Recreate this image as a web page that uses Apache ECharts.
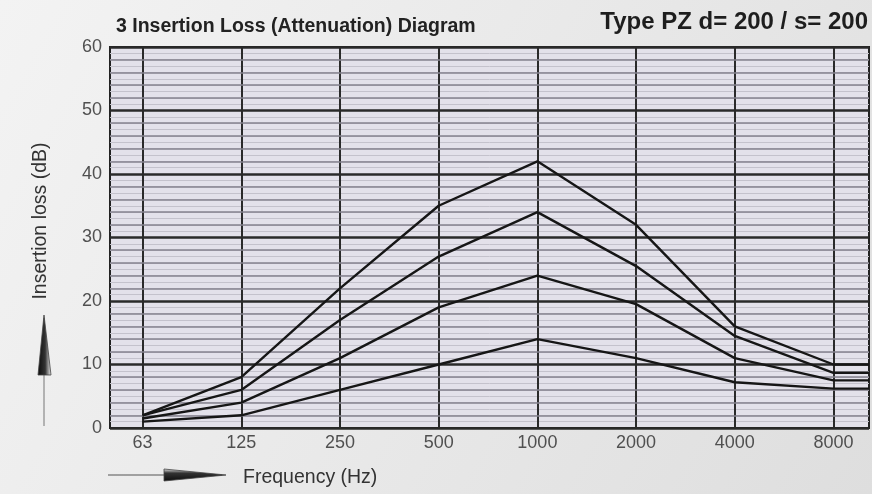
<!DOCTYPE html>
<html>
<head>
<meta charset="utf-8">
<script src="https://cdn.jsdelivr.net/npm/echarts@6/dist/echarts.min.js"></script>
<style>
  html, body { margin: 0; padding: 0; background: #eaeaea; }
  #chart { width: 872px; height: 494px; }
</style>
</head>
<body>
<div id="chart"></div>
<script>
// octave band centre frequencies (Hz)
var frequencies = ['63', '125', '250', '500', '1000', '2000', '4000', '8000'];
var yTicks = [0, 10, 20, 30, 40, 50, 60];

// insertion loss curves (dB), top to bottom
var curveA = [2, 8, 22, 35, 42, 32, 16, 10];
var curveB = [2, 6, 17, 27, 34, 25.5, 14.5, 8.7];
var curveC = [1.5, 4, 11, 19, 24, 19.5, 11, 7.5];
var curveD = [1, 2, 6, 10, 14, 11, 7.2, 6.2];

var X_MIN = -0.33;
var X_MAX = 7.36;
var FONT = 'Liberation Sans, Arial, sans-serif';

function toPoints(values) {
  var pts = values.map(function (v, i) { return [i, v]; });
  // curve runs on flat to the right edge of the diagram
  pts.push([X_MAX, values[values.length - 1]]);
  return pts;
}

function curve(values) {
  return {
    type: 'line',
    yAxisIndex: 1,
    data: toPoints(values),
    symbol: 'none',
    silent: true,
    lineStyle: { color: '#161616', width: 2.4 },
    z: 5
  };
}

var chart = echarts.init(document.getElementById('chart'));

chart.setOption({
  animation: false,
  backgroundColor: new echarts.graphic.LinearGradient(0, 0, 1, 1, [
    { offset: 0, color: '#f3f3f3' },
    { offset: 0.5, color: '#e9e9e9' },
    { offset: 1, color: '#dedede' }
  ]),
  textStyle: { fontFamily: FONT },
  grid: {
    left: 110,
    top: 47,
    right: 3,
    bottom: 66,
    show: true,
    backgroundColor: '#e3e1ea',
    borderColor: '#222',
    borderWidth: 2
  },
  xAxis: {
    type: 'value',
    min: X_MIN,
    max: X_MAX,
    axisLine: { show: false },
    axisTick: { show: false, customValues: frequencies.map(function (f, i) { return i; }) },
    axisLabel: {
      customValues: frequencies.map(function (f, i) { return i; }),
      formatter: function (v) { return frequencies[Math.round(v)]; },
      color: '#505050',
      fontSize: 18,
      margin: 6
    },
    splitLine: { show: true, lineStyle: { color: '#2a2a2a', width: 2 } }
  },
  yAxis: [{
    // faint 1 dB ruling
    type: 'value',
    min: 0,
    max: 60,
    interval: 1,
    z: 0,
    axisLine: { show: false },
    axisTick: { show: false },
    axisLabel: { show: false },
    splitLine: { show: true, lineStyle: { color: '#c4c2cc', width: 1 } }
  }, {
    type: 'value',
    position: 'left',
    min: yTicks[0],
    max: yTicks[yTicks.length - 1],
    interval: 10,
    z: 1,
    axisLine: { show: false },
    axisTick: { show: false },
    axisLabel: { color: '#505050', fontSize: 18, margin: 8 },
    splitLine: { show: true, lineStyle: { color: '#2a2a2a', width: 2.5 } },
    minorTick: { show: false, splitNumber: 5 },
    minorSplitLine: { show: true, lineStyle: { color: '#85838e', width: 1.5 } }
  }],
  series: [curve(curveA), curve(curveB), curve(curveC), curve(curveD)],
  graphic: [
    {
      type: 'text', x: 116, y: 17,
      style: { text: '3 Insertion Loss (Attenuation) Diagram', font: 'bold 19.5px ' + FONT, fill: '#222' }
    },
    {
      type: 'text', right: 4, top: 10,
      style: { text: 'Type PZ d= 200 / s= 200', font: 'bold 24px ' + FONT, fill: '#1e1e1e' }
    },
    {
      type: 'text', x: 41, y: 221, rotation: Math.PI / 2,
      style: { text: 'Insertion loss (dB)', font: '19.5px ' + FONT, fill: '#333', align: 'center', verticalAlign: 'middle' }
    },
    {
      type: 'line', shape: { x1: 44, y1: 318, x2: 44, y2: 426 },
      style: { stroke: '#777', lineWidth: 1 }
    },
    {
      type: 'polygon', shape: { points: [[44, 315], [38, 375], [51, 375]] },
      style: {
        fill: new echarts.graphic.LinearGradient(0, 0, 1, 0, [
          { offset: 0, color: '#0c0c0c' },
          { offset: 0.55, color: '#333' },
          { offset: 1, color: '#f4f4f4' }
        ]),
        stroke: '#444', lineWidth: 0.8
      }
    },
    {
      type: 'line', shape: { x1: 108, y1: 475, x2: 222, y2: 475 },
      style: { stroke: '#555', lineWidth: 1 }
    },
    {
      type: 'polygon', shape: { points: [[164, 469], [226, 475], [164, 481]] },
      style: {
        fill: new echarts.graphic.LinearGradient(0, 0, 0, 1, [
          { offset: 0, color: '#f0f0f0' },
          { offset: 0.35, color: '#333' },
          { offset: 1, color: '#0c0c0c' }
        ]),
        stroke: '#444', lineWidth: 0.8
      }
    },
    {
      type: 'text', x: 243, y: 478,
      style: { text: 'Frequency (Hz)', font: '19.5px ' + FONT, fill: '#333', verticalAlign: 'middle' }
    }
  ]
});
</script>
</body>
</html>
